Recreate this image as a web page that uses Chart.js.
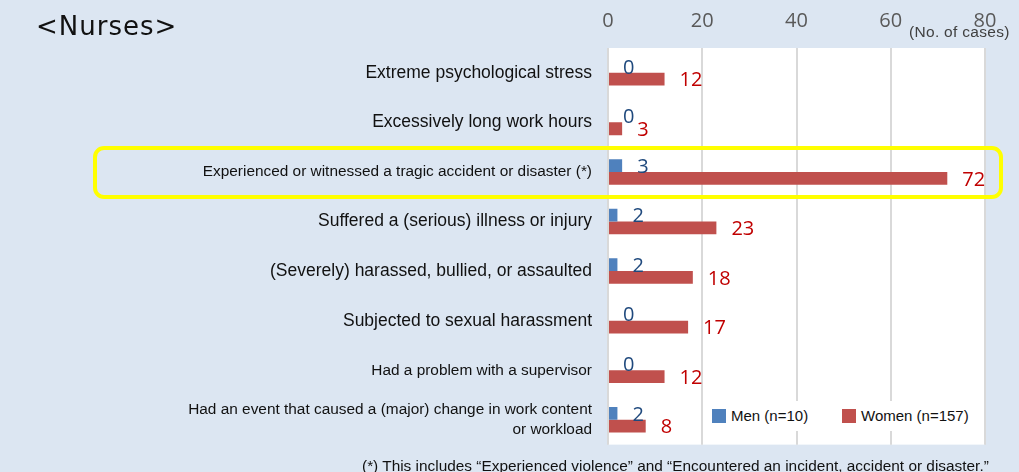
<!DOCTYPE html>
<html>
<head>
<meta charset="utf-8">
<script src="https://cdn.jsdelivr.net/npm/chart.js@4/dist/chart.umd.min.js"></script>
<style>
    html, body { margin: 0; padding: 0; background: #dce6f2; overflow: hidden; }
    #wrap { position: relative; width: 1019px; height: 472px; }
    #chartBox { position: absolute; left: 0; top: 0; width: 1019px; height: 472px; }
    .title { position: absolute; left: 36px; top: 11px; font-family: "DejaVu Sans", sans-serif; font-size: 26px; letter-spacing: 1px; color: #111; }
    .unit { position: absolute; left: 909px; top: 23px; font-family: "Liberation Sans", Arial, sans-serif; font-size: 15.5px; color: #404040; letter-spacing: 0.3px; }
    .highlight { position: absolute; left: 93px; top: 146px; width: 902px; height: 45px; border: 4px solid #ffff00; border-radius: 11px; }
    .legend { position: absolute; left: 705px; top: 401px; width: 270px; height: 30px; background: #fff; font-family: "Liberation Sans", Arial, sans-serif; font-size: 15px; color: #111; }
    .legend .item { position: absolute; top: 6px; white-space: nowrap; }
    .legend .sw { display: inline-block; width: 14px; height: 14px; vertical-align: -2px; margin-right: 5px; }
    .note { position: absolute; left: 362px; top: 457px; font-family: "Liberation Sans", Arial, sans-serif; font-size: 15.4px; color: #111; white-space: nowrap; }
</style>
</head>
<body>
<div id="wrap">
    <div id="chartBox"><canvas id="nursesChart"></canvas></div>
    <div class="title">&lt;Nurses&gt;</div>
    <div class="unit">(No. of cases)</div>
    <div class="highlight"></div>
    <div class="legend" id="legend"></div>
    <div class="note">(*) This includes “Experienced violence” and “Encountered an incident, accident or disaster.”</div>
</div>
<script>
// --- data ---
const categories = [
    'Extreme psychological stress',
    'Excessively long work hours',
    'Experienced or witnessed a tragic accident or disaster (*)',
    'Suffered a (serious) illness or injury',
    '(Severely) harassed, bullied, or assaulted',
    'Subjected to sexual harassment',
    'Had a problem with a supervisor',
    ['Had an event that caused a (major) change in work content', 'or workload']
];
const menValues = [0, 0, 3, 2, 2, 0, 0, 2];
const womenValues = [12, 3, 72, 23, 18, 17, 12, 8];
const seriesNames = ['Men (n=10)', 'Women (n=157)'];
const xTicks = [0, 20, 40, 60, 80];

// styling
const menColor = '#4f81bd';
const womenColor = '#c0504d';
const labelColors = ['#1f497d', '#c00000'];
const smallLabel = [false, false, true, false, false, false, true, true]; // smaller category text

// white plot area behind the bars
const plotBgPlugin = {
    id: 'plotBg',
    beforeDraw(chart) {
        const { ctx, chartArea: { left, top, width, height } } = chart;
        ctx.save();
        ctx.fillStyle = '#ffffff';
        ctx.fillRect(left, top, width, height);
        ctx.restore();
    }
};

// value labels right of each bar
const valueLabelPlugin = {
    id: 'valueLabels',
    afterDatasetsDraw(chart) {
        const ctx = chart.ctx;
        ctx.save();
        ctx.font = '20px "Open Sans", sans-serif';
        ctx.textAlign = 'left';
        ctx.textBaseline = 'middle';
        chart.data.datasets.forEach((ds, di) => {
            const meta = chart.getDatasetMeta(di);
            ctx.fillStyle = labelColors[di];
            meta.data.forEach((bar, i) => {
                ctx.fillText(ds.data[i], bar.x + 15, bar.y + 1.5);
            });
        });
        ctx.restore();
    }
};

const chart = new Chart(document.getElementById('nursesChart'), {
    type: 'bar',
    data: {
        labels: categories,
        datasets: [
            { label: seriesNames[0], data: menValues, backgroundColor: menColor,
              barPercentage: 1, categoryPercentage: 0.515 },
            { label: seriesNames[1], data: womenValues, backgroundColor: womenColor,
              barPercentage: 1, categoryPercentage: 0.515 }
        ]
    },
    options: {
        indexAxis: 'y',
        responsive: true,
        maintainAspectRatio: false,
        animation: false,
        layout: { padding: { top: 0, right: 34, bottom: 20, left: 0 } },
        scales: {
            x: {
                position: 'top',
                min: xTicks[0],
                max: xTicks[xTicks.length - 1],
                afterBuildTicks(scale) {
                    scale.ticks = xTicks.map(v => ({ value: v }));
                },
                afterFit(scale) { scale.height = 48; },
                ticks: {
                    color: '#595959',
                    font: { family: '"Open Sans", sans-serif', size: 20 },
                    padding: 15
                },
                grid: { color: '#d9d9d9', lineWidth: 2, drawTicks: false },
                border: { display: false }
            },
            y: {
                afterFit(scale) { scale.width = 608; },
                grid: { display: false, drawTicks: false },
                border: { display: false },
                ticks: {
                    color: '#111',
                    padding: 16,
                    font: (c) => ({
                        family: '"Liberation Sans", Arial, sans-serif',
                        size: smallLabel[c.index] ? 15.4 : 17.5,
                        lineHeight: 1.3
                    })
                }
            }
        },
        plugins: {
            legend: { display: false },
            tooltip: { enabled: false }
        }
    },
    plugins: [plotBgPlugin, valueLabelPlugin]
});

// legend built from the chart datasets
const legendEl = document.getElementById('legend');
const legendX = [7, 137];
chart.data.datasets.forEach((ds, i) => {
    const item = document.createElement('div');
    item.className = 'item';
    item.style.left = legendX[i] + 'px';
    item.innerHTML = '<span class="sw" style="background:' + ds.backgroundColor + '"></span>' + ds.label;
    legendEl.appendChild(item);
});
</script>
</body>
</html>
